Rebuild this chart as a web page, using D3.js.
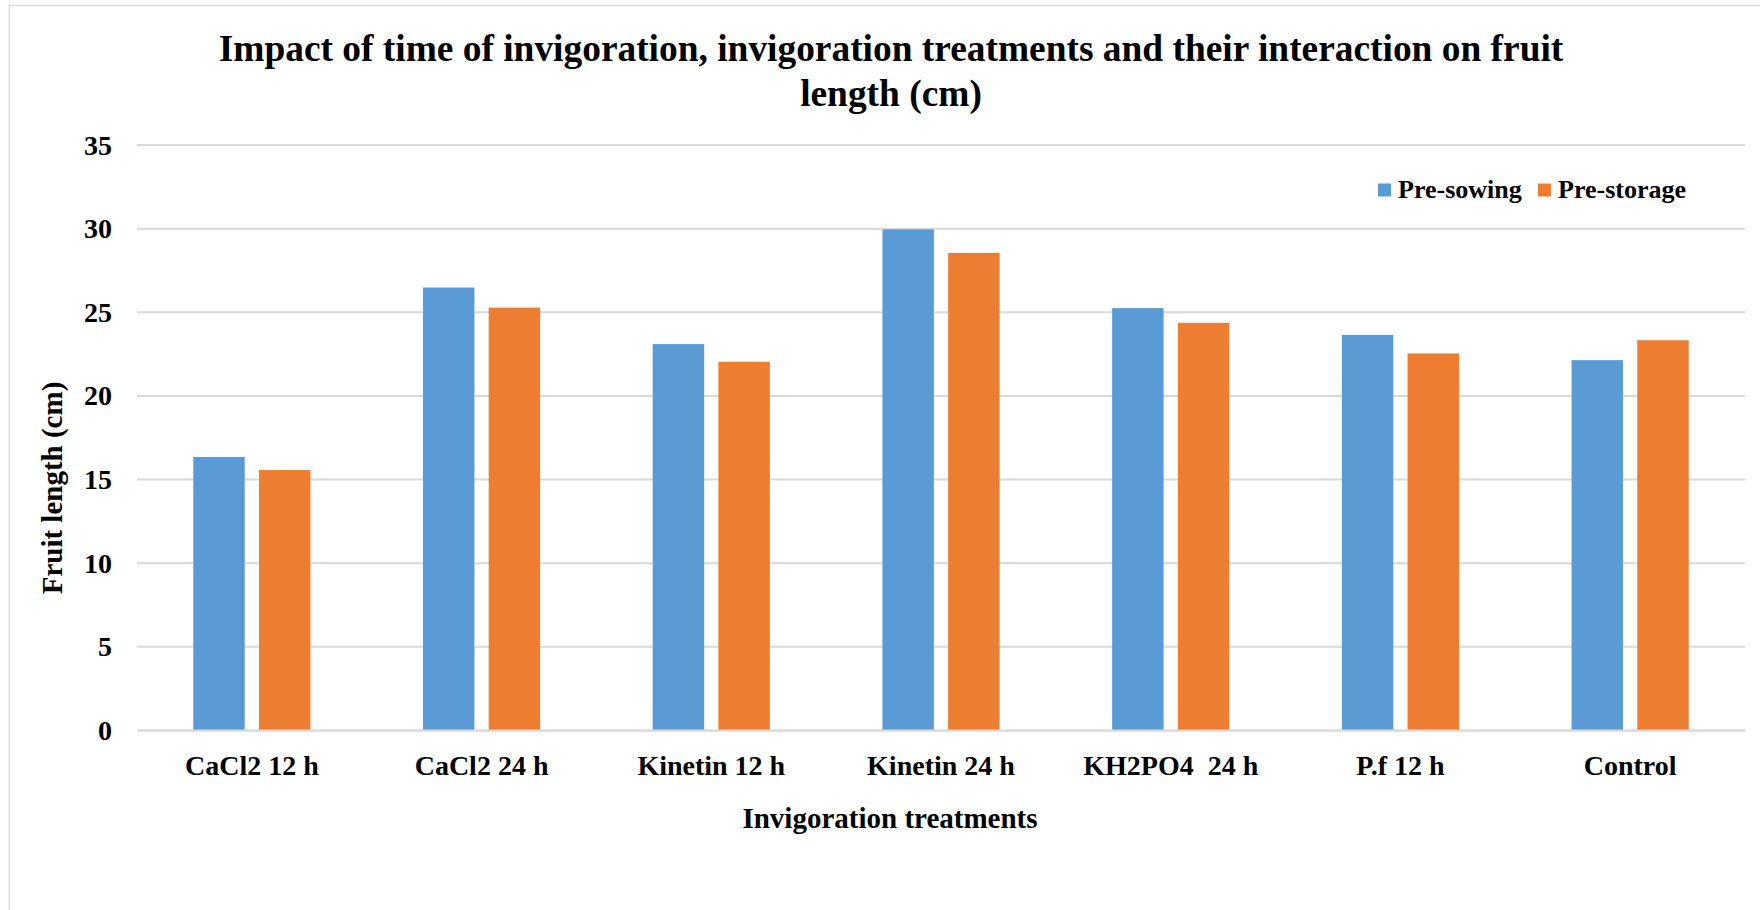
<!DOCTYPE html>
<html>
<head>
<meta charset="utf-8">
<script src="https://cdn.jsdelivr.net/npm/d3@7"></script>
<style>
  html, body { margin: 0; padding: 0; background: #fff; }
  svg { display: block; }
  text { font-family: "Liberation Serif", "Times New Roman", serif; font-weight: bold; fill: #000; }
</style>
</head>
<body>
<script>
// Treatments along the x axis
const categories = ["CaCl2 12 h", "CaCl2 24 h", "Kinetin 12 h", "Kinetin 24 h", "KH2PO4  24 h", "P.f 12 h", "Control"];
// Series names and their fruit length values (cm)
const seriesNames = ["Pre-sowing", "Pre-storage"];
const preSowing  = [16.32, 26.45, 23.07, 29.93, 25.22, 23.62, 22.11];
const preStorage = [15.54, 25.25, 22.01, 28.52, 24.34, 22.51, 23.30];
const yTicks = [0, 5, 10, 15, 20, 25, 30, 35];
const colors = ["#5B9BD5", "#ED7D31"];

const W = 1760, H = 910;
const plot = { left: 137, right: 1745, top: 144.5, bottom: 730 };

const svg = d3.select("body").append("svg").attr("width", W).attr("height", H);

// chart frame
svg.append("path")
  .attr("d", `M9.5,${H} L9.5,5.5 L${W},5.5`)
  .attr("fill", "none").attr("stroke", "#d9d9d9").attr("stroke-width", 1.5);

const x0 = d3.scaleBand().domain(categories).range([plot.left, plot.right]).paddingInner(0).paddingOuter(0);
const groupW = x0.bandwidth() * 0.51;
const x1 = d3.scaleBand().domain(seriesNames).range([0, groupW]).paddingInner(0.217).paddingOuter(0);
const y = d3.scaleLinear().domain([0, 35]).range([plot.bottom, plot.top]);

// gridlines and value labels
const yAxis = d3.axisLeft(y).tickValues(yTicks).tickSize(-(plot.right - plot.left)).tickPadding(25).tickFormat(d3.format("d"));
const gy = svg.append("g").attr("transform", `translate(${plot.left},0)`).call(yAxis);
gy.select(".domain").remove();
gy.selectAll(".tick line").attr("stroke", "#d9d9d9").attr("stroke-width", 2);
gy.selectAll(".tick text").attr("font-size", 28).attr("dy", "0.34em").style("font-family", "'Liberation Serif', serif").style("font-weight", "bold").attr("fill", "#000");

// bars
const rows = categories.map((c, i) => ({ cat: c, vals: [preSowing[i], preStorage[i]] }));
const groups = svg.append("g").selectAll("g").data(rows).join("g")
  .attr("transform", d => `translate(${x0(d.cat) + (x0.bandwidth() - groupW) / 2},0)`);
groups.selectAll("rect").data(d => d.vals.map((v, j) => ({ name: seriesNames[j], v, j }))).join("rect")
  .attr("x", d => x1(d.name))
  .attr("width", x1.bandwidth())
  .attr("y", d => y(d.v))
  .attr("height", d => y(0) - y(d.v))
  .attr("fill", d => colors[d.j]);

// category axis
const xAxis = d3.axisBottom(x0).tickSize(0).tickPadding(34);
const gx = svg.append("g").attr("transform", `translate(0,${plot.bottom})`).call(xAxis);
gx.select(".domain").attr("stroke", "#d9d9d9").attr("stroke-width", 2);
gx.selectAll(".tick text").attr("font-size", 28).style("font-family", "'Liberation Serif', serif").style("font-weight", "bold").attr("fill", "#000").attr("dy", "0.71em")
  .attr("y", 25).style("white-space", "pre");

// title
const title = svg.append("text").attr("text-anchor", "middle").attr("font-size", 37.4);
title.append("tspan").attr("x", 891).attr("y", 61).text("Impact of time of invigoration, invigoration treatments and their interaction on fruit");
title.append("tspan").attr("x", 891).attr("y", 106).text("length (cm)");

// axis titles
svg.append("text").attr("text-anchor", "middle").attr("font-size", 29)
  .attr("x", 890).attr("y", 828).text("Invigoration treatments");
svg.append("text").attr("text-anchor", "middle").attr("font-size", 29)
  .attr("transform", "translate(62,488) rotate(-90)").text("Fruit length (cm)");

// legend
const legendX = [1378, 1538];
const lg = svg.append("g").selectAll("g").data(seriesNames).join("g")
  .attr("transform", (d, i) => `translate(${legendX[i]},183.5)`);
lg.append("rect").attr("width", 13).attr("height", 13).attr("fill", (d, i) => colors[i]);
lg.append("text").attr("x", 20).attr("y", 14.5).attr("font-size", 26).text(d => d);
</script>
</body>
</html>
